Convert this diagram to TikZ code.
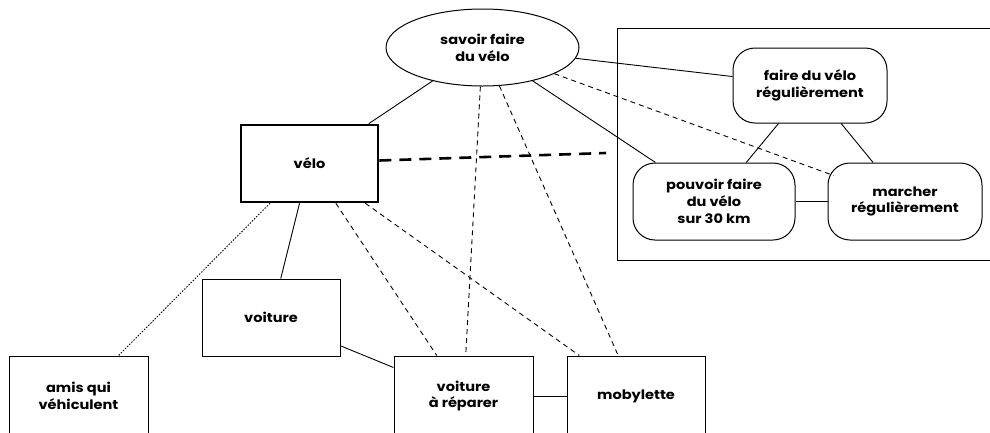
\documentclass[tikz,border=0pt]{standalone}
\usepackage{fontspec}
\setmainfont{Poppins}[FakeStretch=1.12]
\usetikzlibrary{shapes.geometric}
\begin{document}
\begin{tikzpicture}[x=1pt,y=-1pt,
  lbl/.style={font=\bfseries\fontsize{13}{16.7}\selectfont, align=center, inner sep=0pt},
  box/.style={lbl, draw, line width=1pt, minimum width=#1, minimum height=77pt},
  rbox/.style={lbl, draw, line width=1pt, rounded corners=22pt, minimum width=#1, minimum height=76pt},
  link/.style={line width=0.9pt},
  dlink/.style={line width=0.9pt, dash pattern=on 5pt off 4pt},
  dotlink/.style={line width=0.9pt, dash pattern=on 1.5pt off 1.5pt},
  thickdash/.style={line width=2.6pt, dash pattern=on 12pt off 8pt}]
\clip (0,0) rectangle (990,432);
\fill[white] (0,0) rectangle (990,432);
% panel
\draw[line width=1pt] (617,28) rectangle (1000,260);
% nodes
\node[lbl, draw, ellipse, line width=1pt, minimum width=193pt, minimum height=77pt] (ell) at (482.5,47.5) {savoir faire\\du vélo};
\node[box=137pt, line width=2.6pt] (velo) at (309.5,163.5) {vélo};
\node[box=138pt] (voiture) at (271,317.5) {voiture};
\node[box=139pt, minimum height=80pt] (amis) at (78.5,396) {amis qui\\véhiculent};
\node[box=139pt, minimum height=80pt] (vr) at (463.5,396) {voiture\\à réparer};
\node[box=138pt, minimum height=80pt] (moby) at (636,396) {mobylette};
\node[rbox=154pt, minimum height=75pt] (fdv) at (810,85.5) {faire du vélo\\régulièrement};
\node[rbox=162pt, minimum height=77pt] (pouv) at (714,201.5) {pouvoir faire\\du vélo\\sur 30 km};
\node[rbox=154pt, minimum height=77pt] (march) at (905,201.5) {marcher\\régulièrement};
\coordinate (pend) at (606,153);
% connectors
\draw[link] (ell) -- (velo);
\draw[link] (ell) -- (fdv);
\draw[link] (ell) -- (pouv);
\draw[dlink] (ell) -- ([xshift=6pt,yshift=-13pt]march.north west);
\draw[dlink] (ell) -- (vr);
\draw[dlink] (ell) -- (moby);
\draw[dlink] (velo) -- (vr);
\draw[dlink] (velo) -- (moby);
\draw[link] (velo) -- (voiture);
\draw[dotlink] (velo) -- (amis);
\draw[link] (voiture) -- (vr);
\draw[link] (vr) -- (moby);
\draw[link] (fdv) -- (pouv);
\draw[link] (fdv) -- (march);
\draw[link] (pouv) -- (march);
\draw[thickdash] ([yshift=3pt]velo.east) -- (pend);
\end{tikzpicture}
\end{document}
